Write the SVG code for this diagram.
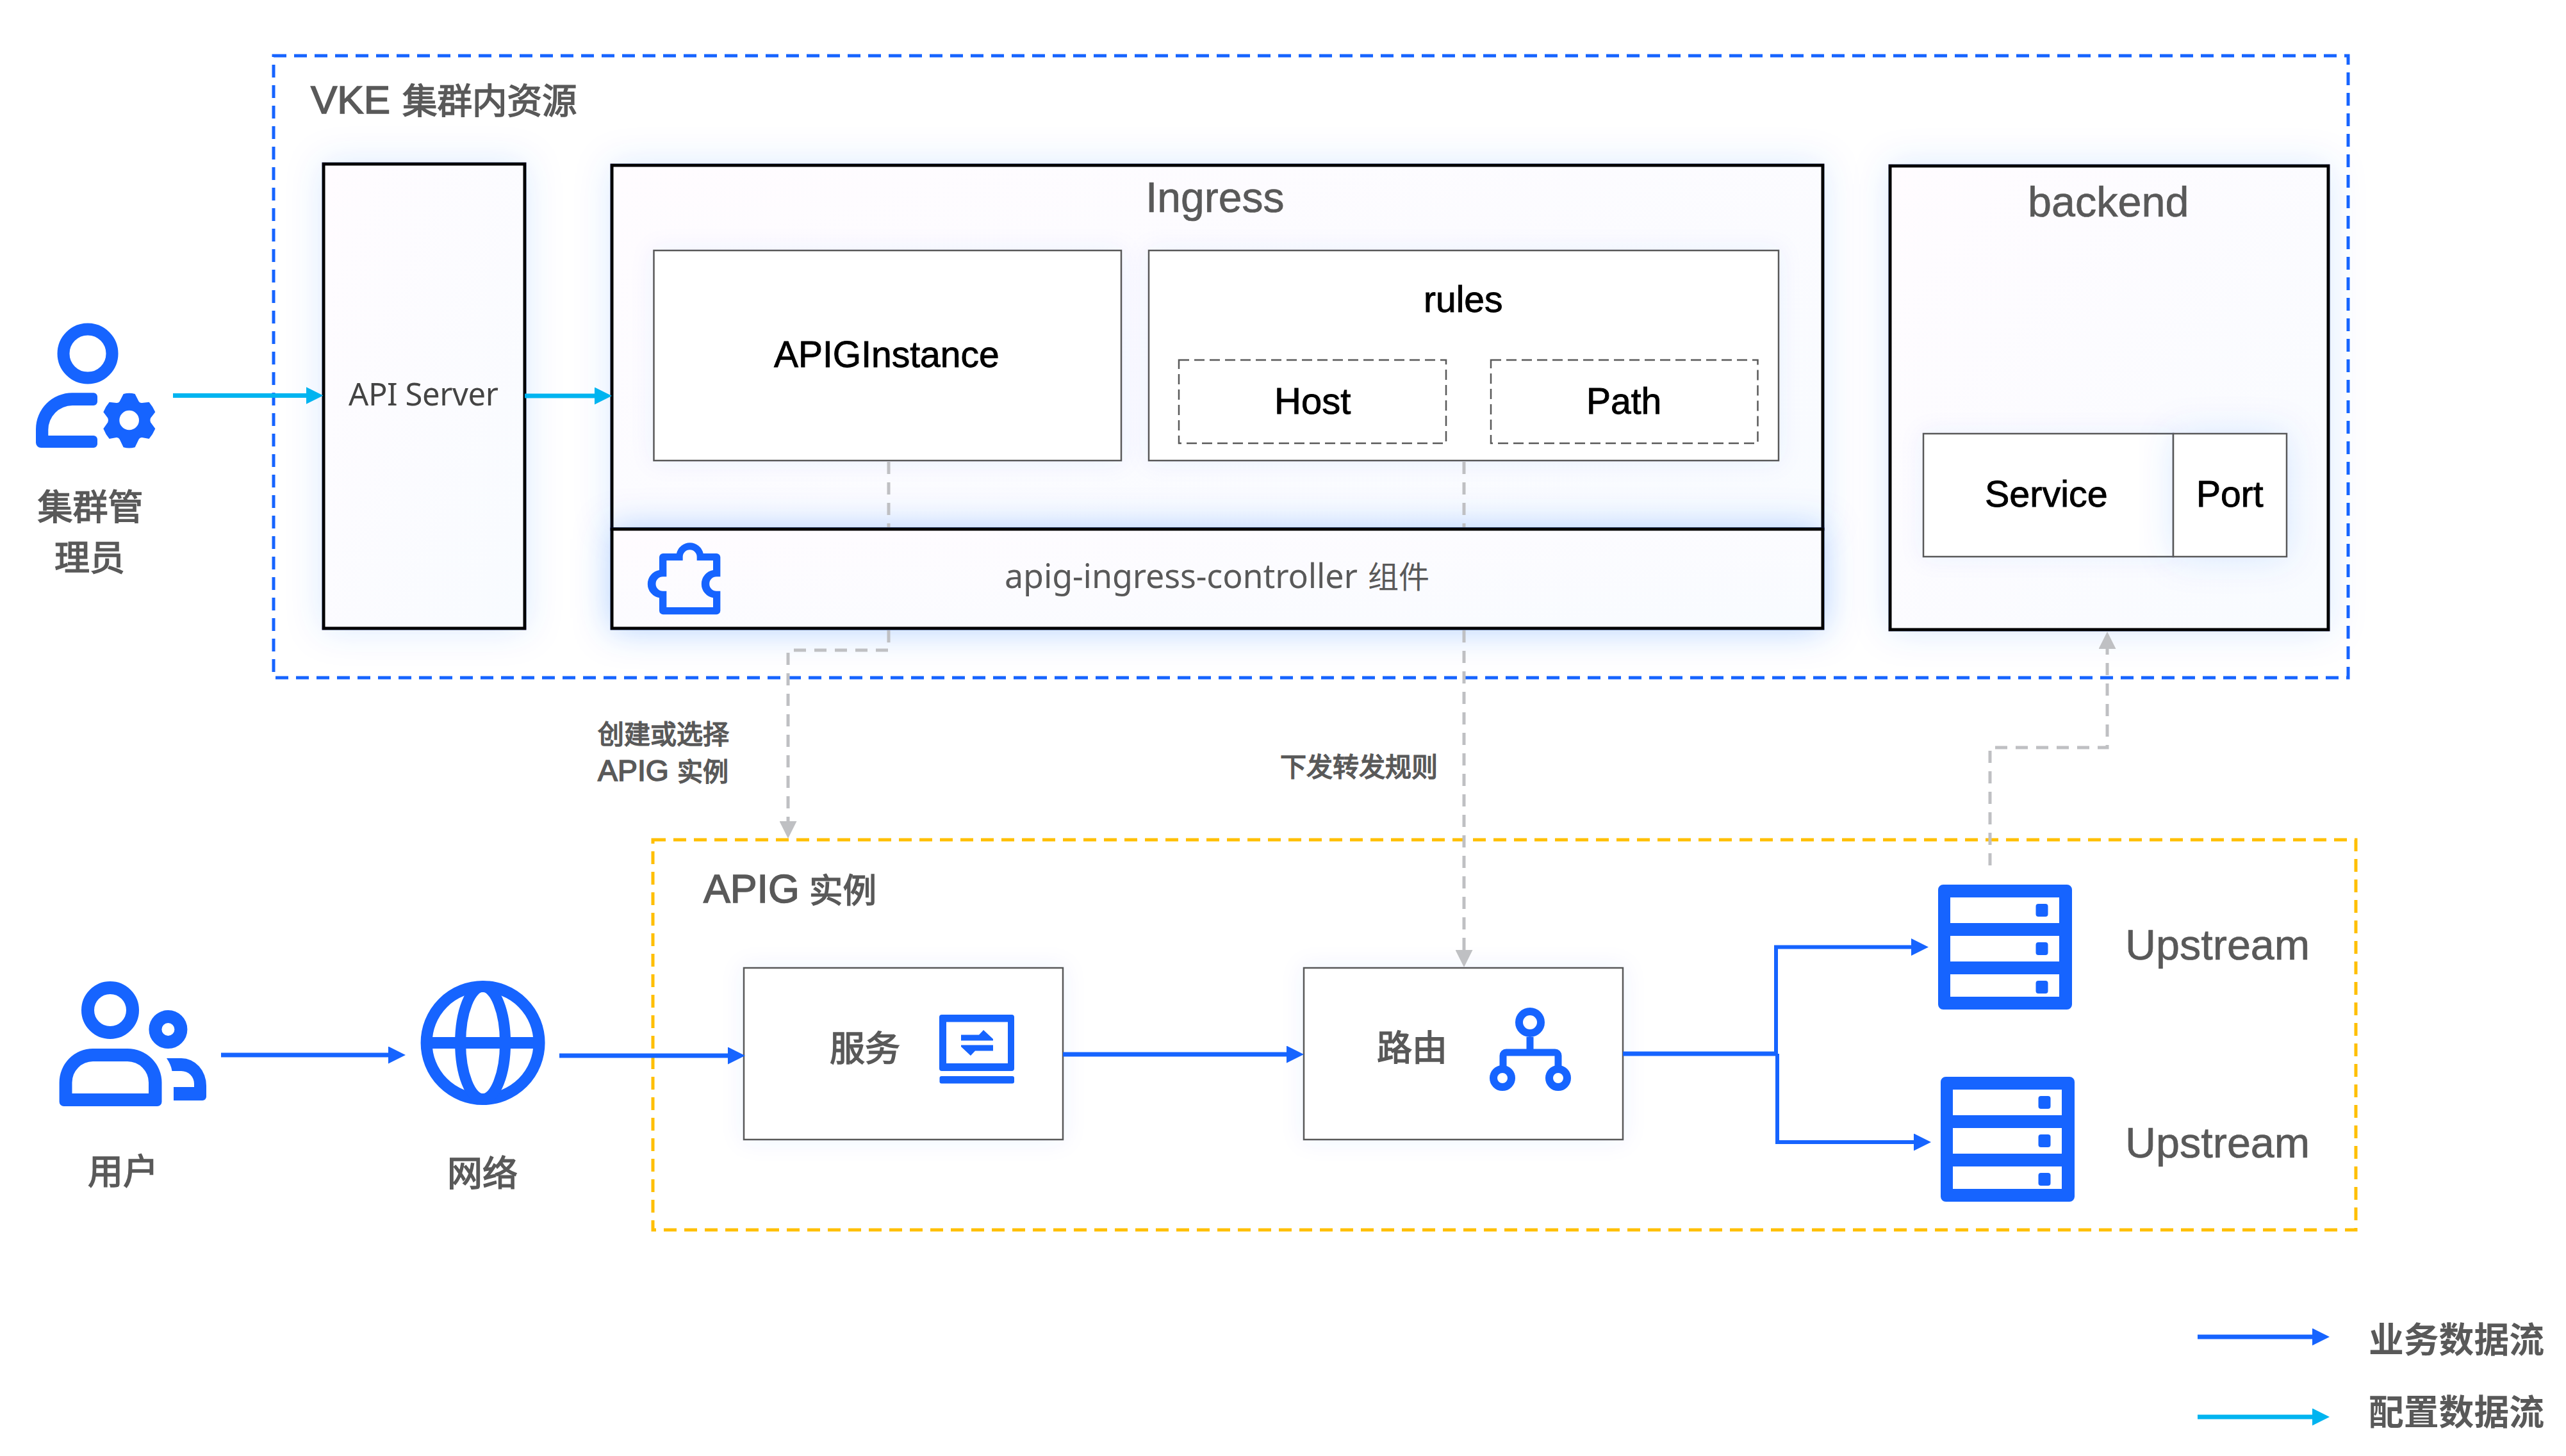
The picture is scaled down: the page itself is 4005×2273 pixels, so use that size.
<svg xmlns="http://www.w3.org/2000/svg" width="4005" height="2273" viewBox="0 0 4005 2273">
<style>
text{font-family:"Liberation Sans","Noto Sans CJK SC",sans-serif;fill:#595959}
.ui{font-family:"Noto Sans","Noto Sans CJK SC",sans-serif}
.k{fill:#000;stroke:#000;stroke-width:.9}
.h{stroke:#595959;stroke-width:.7}
.m{stroke:#595959;stroke-width:1.6}
.b{font-weight:700}
.mid{text-anchor:middle}
.panel{fill:url(#panelFill);stroke:#000;stroke-width:5}
.card{fill:#fff;stroke:#595959;stroke-width:2.5}
.slot{fill:none;stroke:#595959;stroke-width:2.5;stroke-dasharray:16 8}
.ico{fill:#1664ff}
.ring{fill:none;stroke:#1664ff}
.biz{fill:none;stroke:#1664ff;stroke-width:7}
.cfg{fill:none;stroke:#00b4f0;stroke-width:7}
.ctl{fill:none;stroke:#bfc0c3;stroke-width:5;stroke-dasharray:19 13}
</style>
<defs>
<linearGradient id="panelFill" x1="0" y1="0" x2="1" y2="1"><stop offset="0" stop-color="#fffcff"/><stop offset="1" stop-color="#f8fbff"/></linearGradient>
<filter id="glow" x="-30%" y="-30%" width="160%" height="160%"><feDropShadow dx="0" dy="0" stdDeviation="28" flood-color="#1664ff" flood-opacity="0.14"/></filter>
<filter id="glowStrong" x="-10%" y="-60%" width="120%" height="220%"><feDropShadow dx="0" dy="0" stdDeviation="28" flood-color="#1664ff" flood-opacity="0.3"/></filter>
<filter id="glowSoft" x="-20%" y="-30%" width="140%" height="160%"><feDropShadow dx="0" dy="0" stdDeviation="18" flood-color="#1664ff" flood-opacity="0.07"/></filter>
<marker id="hBiz" markerUnits="userSpaceOnUse" markerWidth="27" markerHeight="27" viewBox="0 0 27 27" refX="7" refY="13.5" orient="auto"><path d="M0 0L27 13.5L0 27Z" fill="#1664ff"/></marker>
<marker id="hCfg" markerUnits="userSpaceOnUse" markerWidth="27" markerHeight="27" viewBox="0 0 27 27" refX="7" refY="13.5" orient="auto"><path d="M0 0L27 13.5L0 27Z" fill="#00b4f0"/></marker>
<marker id="hCtl" markerUnits="userSpaceOnUse" markerWidth="27" markerHeight="27" viewBox="0 0 27 27" refX="7" refY="13.5" orient="auto"><path d="M0 0L27 13.5L0 27Z" fill="#bfc0c3"/></marker>
<g id="rack">
<path class="ico" fill-rule="evenodd" d="M3033 1381H3226a8 8 0 0 1 8 8V1568a8 8 0 0 1-8 8H3033a8 8 0 0 1-8-8V1389a8 8 0 0 1 8-8ZM3044 1401V1441H3214V1401ZM3044 1461V1501H3214V1461ZM3044 1521V1556H3214V1521Z"/>
<rect class="ico" x="3177.500" y="1411" width="19" height="20" rx="4"/>
<rect class="ico" x="3177.500" y="1471" width="19" height="20" rx="4"/>
<rect class="ico" x="3177.500" y="1531" width="19" height="20" rx="4"/>
</g>
</defs>

<rect width="4005" height="2273" fill="#fff"/>

<g id="vke-cluster">
<rect x="427" y="87" width="3238" height="971" fill="#fff" stroke="#1664ff" stroke-width="5" stroke-dasharray="20 12"/>
<text class="m" y="177"><tspan x="485" font-size="62">VKE</tspan><tspan x="628" font-size="54.500">集群内资源</tspan></text>
</g>

<g id="api-server">
<rect class="panel" x="505" y="256" width="314" height="725" filter="url(#glow)"/>
<text class="ui" x="544" y="633" font-size="49" textLength="234" style="fill:#444">API Server</text>
</g>

<g id="ingress">
<rect class="panel" x="955" y="258" width="1890" height="568" filter="url(#glow)"/>
<text class="h" x="1788" y="331" font-size="66">Ingress</text>
</g>

<g id="apig-ingress-controller">
<rect class="panel" x="955" y="826" width="1890" height="155" filter="url(#glowStrong)"/>
<path class="ico" fill-rule="evenodd" transform="translate(960 820) scale(.33333)" d="M225 132H288A64 64 0 0 1 413 132H475a18 18 0 0 1 18 18V241H475A33 33 0 0 0 475 308H493V400a18 18 0 0 1-18 18H225a18 18 0 0 1-18-18V340A66 66 0 0 1 207 210V150a18 18 0 0 1 18-18ZM241 165V210V241H224A33 33 0 0 0 224 308H241V384H459V340A66 66 0 0 1 459 210V165H383V148A33 33 0 0 0 317 148V165Z"/>
<text class="ui" y="918"><tspan x="1568" font-size="52" textLength="551">apig-ingress-controller</tspan><tspan x="2135" font-size="48">组件</tspan></text>
</g>

<g id="apig-instance-cr">
<rect class="card" x="1020.500" y="391" width="729.500" height="328" filter="url(#glowSoft)"/>
<text class="k" x="1208" y="573" font-size="57">APIGInstance</text>
</g>

<g id="rules">
<rect class="card" x="1793" y="391" width="983" height="328" filter="url(#glowSoft)"/>
<text class="k" x="2222" y="487" font-size="57">rules</text>
<rect class="slot" x="1840" y="562" width="417" height="130"/>
<text class="k" x="1989" y="646" font-size="58">Host</text>
<rect class="slot" x="2327" y="562" width="416.500" height="130"/>
<text class="k" x="2476" y="646" font-size="57">Path</text>
</g>

<g id="backend">
<rect class="panel" x="2950" y="259" width="684" height="724" filter="url(#glow)"/>
<text class="h" x="3165" y="338" font-size="66.500">backend</text>
<rect class="card" x="3002" y="677" width="390" height="192" filter="url(#glowSoft)"/>
<rect class="card" x="3392" y="677" width="177" height="192" filter="url(#glow)"/>
<text class="k" x="3098" y="791" font-size="57.500">Service</text>
<text class="k" x="3428" y="791" font-size="57">Port</text>
</g>

<g id="apig-instance">
<rect x="1019" y="1311" width="2658" height="609" fill="none" stroke="#ffbf00" stroke-width="5" stroke-dasharray="20 12"/>
<text class="m" y="1409"><tspan x="1098" font-size="62.700">APIG</tspan><tspan x="1263" font-size="52.500">实例</tspan></text>
</g>

<g id="cluster-admin">
<circle class="ring" cx="137" cy="552" r="38" stroke-width="19"/>
<path class="ico" d="M113 613.300H146a6 6 0 0 1 6 6V627a6 6 0 0 1-6 6H113A38 38 0 0 0 75.300 671V680H146a6 6 0 0 1 6 6V693a6 6 0 0 1-6 6H64a8 8 0 0 1-8-8V670A56.700 56.700 0 0 1 113 613.300Z"/>
<path class="ico" fill-rule="evenodd" transform="translate(0 470) scale(.33333)" d="M578 435Q605 427 632 435L650 470Q655 478 665 477L698 473Q716 494 727 520L705 548Q701 558 705 568L727 598Q716 624 698 645L665 639Q655 638 650 647L632 685Q605 692 578 685L560 647Q555 638 545 639L512 645Q494 624 484 598L505 568Q509 558 505 548L484 520Q494 494 512 473L545 477Q555 478 560 470ZM605 512A46 46 0 1 0 605 604A46 46 0 1 0 605 512Z"/>
<text class="m mid" x="141" y="811" font-size="55">集群管</text>
<text class="m mid" x="140" y="890" font-size="55">理员</text>
</g>

<g id="users">
<circle class="ring" cx="172" cy="1577" r="35" stroke-width="20"/>
<circle class="ring" cx="262.400" cy="1607" r="20" stroke-width="20"/>
<path class="ico" fill-rule="evenodd" d="M145 1637H199A53.500 53 0 0 1 252.500 1690V1720a7 7 0 0 1-7 7H99.600a7 7 0 0 1-7-7V1690A52.400 53 0 0 1 145 1637ZM145 1657A32.500 33 0 0 0 112.500 1690V1707H232V1690A33 33 0 0 0 199 1657Z"/>
<path class="ico" d="M260 1652H283A39 43 0 0 1 322 1695V1712a6 6 0 0 1-6 6H271V1697H303V1692A20 20 0 0 0 283 1672H268.500Q267 1662 260 1652Z"/>
<text class="m mid" x="192" y="1848" font-size="55">用户</text>
</g>

<g id="network">
<circle class="ring" cx="753.600" cy="1628" r="88" stroke-width="18"/>
<ellipse class="ring" cx="753.600" cy="1628" rx="35" ry="88" stroke-width="17"/>
<rect class="ico" x="670" y="1619" width="167" height="18"/>
<text class="m mid" x="753" y="1851" font-size="55">网络</text>
</g>

<g id="service">
<rect class="card" x="1161" y="1511" width="498" height="268" filter="url(#glowSoft)"/>
<text class="m" x="1295" y="1656" font-size="55">服务</text>
<path class="ico" fill-rule="evenodd" d="M1470 1584H1579a4 4 0 0 1 4 4V1668a4 4 0 0 1-4 4H1470a4 4 0 0 1-4-4V1588a4 4 0 0 1 4-4ZM1477 1595.500V1660H1573V1595.500Z"/>
<rect class="ico" x="1466.500" y="1680" width="116.500" height="11.500" rx="3"/>
<path class="ico" d="M1500 1615.500H1528L1535 1608L1550 1622V1624.500H1500ZM1550 1631.400H1500V1634L1515 1648L1522 1640.400H1550Z"/>
</g>

<g id="route">
<rect class="card" x="2035" y="1511" width="498" height="268" filter="url(#glowSoft)"/>
<text class="m" x="2149" y="1655" font-size="55">路由</text>
<circle class="ring" cx="2388" cy="1596" r="17" stroke-width="12"/>
<circle class="ring" cx="2345" cy="1683" r="14" stroke-width="12"/>
<circle class="ring" cx="2432" cy="1683" r="14" stroke-width="12"/>
<path d="M2388 1619V1642M2346 1666V1648a5 5 0 0 1 5-5H2427a5 5 0 0 1 5 5V1666" fill="none" stroke="#1664ff" stroke-width="11"/>
</g>

<g id="upstream-a">
<use href="#rack"/>
<text class="h" x="3317" y="1498" font-size="66.500">Upstream</text>
</g>

<g id="upstream-b">
<use href="#rack" transform="translate(4 300)"/>
<text class="h" x="3317" y="1806.500" font-size="66.500">Upstream</text>
</g>

<g id="connectors">
<path class="cfg" marker-end="url(#hCfg)" d="M270 617.500H484.500"/>
<path class="cfg" marker-end="url(#hCfg)" d="M819 618H935"/>
<path class="biz" marker-end="url(#hBiz)" d="M345 1647H613"/>
<path class="biz" marker-end="url(#hBiz)" d="M873 1648H1143"/>
<path class="biz" marker-end="url(#hBiz)" d="M1659 1646H2015"/>
<path class="biz" d="M2533 1645H2772" stroke-width="8"/>
<path class="biz" marker-end="url(#hBiz)" style="stroke-width:6" d="M2772 1645V1478.500H2990"/>
<path class="biz" marker-end="url(#hBiz)" style="stroke-width:6" d="M2774 1645V1783H2994"/>
<path class="ctl" d="M1387 721V823"/>
<path class="ctl" marker-end="url(#hCtl)" d="M1387 984V1015H1230V1289"/>
<path class="ctl" d="M2285 721V823"/>
<path class="ctl" marker-end="url(#hCtl)" d="M2285 984V1490"/>
<path class="ctl" marker-end="url(#hCtl)" d="M3106 1351V1167H3289V1006"/>
</g>

<g id="connector-labels">
<text class="m" x="933" y="1161" font-size="41">创建或选择</text>
<text class="m" y="1219"><tspan x="933" font-size="46.400">APIG</tspan><tspan x="1057" font-size="40">实例</tspan></text>
<text class="m" x="1998" y="1212" font-size="41">下发转发规则</text>
</g>

<g id="legend">
<path class="biz" marker-end="url(#hBiz)" d="M3430 2087H3616"/>
<path class="cfg" marker-end="url(#hCfg)" d="M3430 2212H3616"/>
<text class="b" x="3697" y="2111" font-size="54.800">业务数据流</text>
<text class="b" x="3697" y="2224" font-size="54.800">配置数据流</text>
</g>
</svg>
